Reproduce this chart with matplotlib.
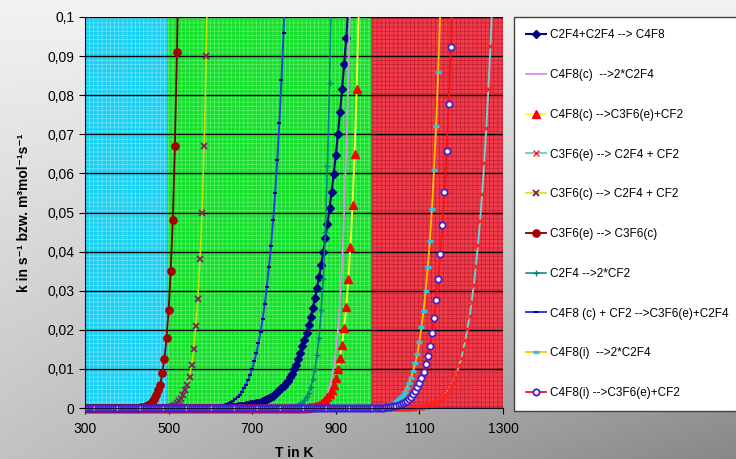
import numpy as np
import matplotlib
matplotlib.use("Agg")
from matplotlib import pyplot as plt
from matplotlib.ticker import FixedLocator, MultipleLocator, FuncFormatter
from matplotlib.transforms import Bbox, TransformedBbox

plt.rcParams['font.family'] = ['Liberation Sans', 'DejaVu Sans']
plt.rcParams['hatch.linewidth'] = 0.5

T_MIN, T_MAX, T_STEP = 300, 1300, 5
X_TICKS = [300, 500, 700, 900, 1100, 1300]

# temperature ranges of the three shaded zones
ZONES = [(300, 495), (495, 985), (985, 1300)]

LABELS = [
    "C2F4+C2F4 --> C4F8",
    "C4F8(c)  -->2*C2F4",
    "C4F8(c) -->C3F6(e)+CF2",
    "C3F6(e) --> C2F4 + CF2",
    "C3F6(c) --> C2F4 + CF2",
    "C3F6(e) --> C3F6(c)",
    "C2F4 -->2*CF2",
    "C4F8 (c) + CF2 -->C3F6(e)+C2F4",
    "C4F8(i)  -->2*C2F4",
    "C4F8(i) -->C3F6(e)+CF2",
]

# first temperature (K) where k leaves zero; below it every value reads 0
T_START = [625, 830, 830, 1085, 495, 430, 785, 600, 990, 1010]

# k values every 5 K from T_START on (last value is just above the frame)
K_C2F4_DIMER = [0.0001, 0.00012, 0.00015, 0.00018, 0.0002, 0.00025, 0.0003, 0.00035, 0.0004, 0.00045,
                0.0005, 0.0006, 0.0007, 0.0008, 0.0009, 0.0010, 0.0011, 0.0012, 0.0014, 0.0016,
                0.0018, 0.0020, 0.0022, 0.0025, 0.0028, 0.0031, 0.0035, 0.0040, 0.0045, 0.0050,
                0.0056, 0.0063, 0.0070, 0.0079, 0.0088, 0.0099, 0.0111, 0.0125, 0.0140, 0.0158,
                0.0175, 0.0193, 0.0212, 0.0233, 0.0256, 0.0281, 0.0307, 0.0336, 0.0366, 0.0399,
                0.0434, 0.0471, 0.0511, 0.0553, 0.0598, 0.0647, 0.0700, 0.0756, 0.0815, 0.0880,
                0.0947, 0.102]
K_C4F8C_2C2F4 = [0.0001, 0.00016, 0.00024, 0.00035, 0.0005, 0.0007, 0.001, 0.0014, 0.002, 0.0028,
                 0.0039, 0.0055, 0.0076, 0.0105, 0.0145, 0.020, 0.0275, 0.037, 0.050, 0.066,
                 0.085, 0.108]
K_C4F8C_C3F6 = [0.0001, 0.00015, 0.0002, 0.0003, 0.00045, 0.0006, 0.0008, 0.0011, 0.0015, 0.002,
                0.0027, 0.0035, 0.0046, 0.006, 0.0078, 0.0100, 0.0128, 0.0162, 0.0205, 0.0259,
                0.0329, 0.0413, 0.052, 0.065, 0.0815, 0.102]
K_C3F6E_SPLIT = [0.0001, 0.00014, 0.00018, 0.00024, 0.0003, 0.0004, 0.0005, 0.00065, 0.0008, 0.001,
                 0.0012, 0.0015, 0.0018, 0.0022, 0.0027, 0.0033, 0.0039, 0.0047, 0.0056, 0.0067,
                 0.0079, 0.0093, 0.0109, 0.0128, 0.015, 0.0175, 0.0203, 0.0235, 0.0272, 0.0314,
                 0.0362, 0.0416, 0.0477, 0.0547, 0.0626, 0.0715, 0.0816, 0.0926, 0.105]
K_C3F6C_SPLIT = [0.0001, 0.0002, 0.0003, 0.0005, 0.0008, 0.0012, 0.0017, 0.0024, 0.0033, 0.0045,
                 0.006, 0.008, 0.011, 0.015, 0.021, 0.028, 0.038, 0.050, 0.067, 0.090, 0.12]
K_C3F6_ISOM = [0.0001, 0.0002, 0.0003, 0.0005, 0.0007, 0.001, 0.0015, 0.0022, 0.0032, 0.0045,
               0.006, 0.009, 0.0125, 0.018, 0.025, 0.035, 0.048, 0.067, 0.091, 0.125]
K_C2F4_SPLIT = [0.0001, 0.00016, 0.00024, 0.00035, 0.0005, 0.0007, 0.001, 0.0014, 0.002, 0.0028,
                0.0039, 0.0054, 0.0074, 0.010, 0.0135, 0.018, 0.025, 0.033, 0.045, 0.062,
                0.083, 0.11]
K_C4F8C_CF2 = [0.0001, 0.00015, 0.0002, 0.0003, 0.0004, 0.0005, 0.0006, 0.0008, 0.001, 0.0012,
               0.0015, 0.0019, 0.0023, 0.0028, 0.0034, 0.0041, 0.005, 0.006, 0.0071, 0.0085,
               0.0101, 0.012, 0.0141, 0.0166, 0.0195, 0.0228, 0.0265, 0.031, 0.036, 0.0415,
               0.048, 0.055, 0.0635, 0.073, 0.084, 0.096, 0.11]
K_C4F8I_2C2F4 = [0.0001, 0.00015, 0.0002, 0.00025, 0.00033, 0.00043, 0.00055, 0.0007, 0.0009, 0.0011,
                 0.0014, 0.0017, 0.0022, 0.0027, 0.0034, 0.0042, 0.0052, 0.0064, 0.0078, 0.0095,
                 0.0114, 0.0138, 0.017, 0.0206, 0.0249, 0.030, 0.0361, 0.0428, 0.051, 0.0608,
                 0.0722, 0.086, 0.102]
K_C4F8I_C3F6 = [0.0001, 0.00012, 0.00016, 0.00022, 0.0003, 0.0004, 0.0005, 0.0006, 0.0008, 0.001,
                0.0012, 0.0015, 0.0019, 0.0024, 0.0029, 0.0036, 0.0044, 0.0053, 0.0064, 0.0077,
                0.0093, 0.0112, 0.0134, 0.0159, 0.0193, 0.0229, 0.0276, 0.0329, 0.0394, 0.0468,
                0.0553, 0.0657, 0.0778, 0.0922, 0.109]

K_RISING = [K_C2F4_DIMER, K_C4F8C_2C2F4, K_C4F8C_C3F6, K_C3F6E_SPLIT, K_C3F6C_SPLIT,
            K_C3F6_ISOM, K_C2F4_SPLIT, K_C4F8C_CF2, K_C4F8I_2C2F4, K_C4F8I_C3F6]

STYLES = [
    dict(color='#000080', lw=1.5, marker='D', ms=4.2, mfc='#000080', mec='#000080'),
    dict(color='#d890e0', lw=1.3, marker=None),
    dict(color='#ffff30', lw=1.3, marker='^', ms=5.5, mfc='#ff0000', mec='#ff0000'),
    dict(color='#70d0d0', lw=1.4, marker='x', ms=4.5, mec='#ff2020', mew=1.0),
    dict(color='#c8e000', lw=1.1, marker='x', ms=4.5, mec='#802060', mew=1.3),
    dict(color='#700000', lw=1.3, marker='o', ms=5.2, mfc='#a00000', mec='#a00000'),
    dict(color='#008080', lw=1.1, marker='+', ms=5, mec='#008080', mew=1.0),
    dict(color='#2040e0', lw=1.4, marker='_', ms=3.5, mec='#000090', mew=1.5),
    dict(color='#ffc000', lw=1.3, marker='_', ms=4.5, mec='#30c8d8', mew=2.5),
    dict(color='#ff1010', lw=1.3, marker='o', ms=4.5, mfc='white', mec='#4020d0', mew=1.3),
]

ZONE_FACE = ['#18d0f2', '#14e02c', '#f23c4c']
ZONE_HATCH = ['#70e4fa', '#5cf06a', '#c02030']

fig = plt.figure(figsize=(7.36, 4.59), dpi=100)

# grey gradient behind everything
bg = fig.add_axes([0, 0, 1, 1], zorder=-5)
yy, xx = np.mgrid[0:1:200j, 0:1:200j]
shade = 0.95 - 0.42 * yy * (0.45 + 0.55 * xx)
bg.imshow(shade, cmap='gray', vmin=0, vmax=1, aspect='auto', extent=[0, 1, 0, 1])
bg.axis('off')

ax = fig.add_axes([85 / 736, 51 / 459, 418 / 736, 391 / 459])
ax.set_facecolor('none')

for (t0, t1), fc, hc in zip(ZONES, ZONE_FACE, ZONE_HATCH):
    ax.axvspan(t0, t1, facecolor=fc, edgecolor=hc, hatch='++++', lw=0, zorder=0.5)

clip = TransformedBbox(Bbox([[0, -0.03], [1, 1]]), ax.transAxes)

handles = []
for label, t_start, k_rise, st in zip(LABELS, T_START, K_RISING, STYLES):
    n_zero = (t_start - T_MIN) // T_STEP
    k = [0.0] * n_zero + k_rise
    temps = T_MIN + T_STEP * np.arange(len(k))
    line, = ax.plot(temps, k, label=label, **st)
    line.set_clip_box(clip)
    handles.append(line)

ax.set_xlim(T_MIN, T_MAX)
ax.set_ylim(0, 0.1)
ax.xaxis.set_major_locator(FixedLocator(X_TICKS))
ax.yaxis.set_major_locator(MultipleLocator(0.01))
ax.yaxis.set_major_formatter(FuncFormatter(
    lambda v, p: f"{v:.2f}".rstrip('0').rstrip('.').replace('.', ',')))
ax.yaxis.grid(True, color='black', lw=1.0)
ax.tick_params(direction='out', length=4, labelsize=10, colors='black')
ax.tick_params(axis='x', pad=6)

for side in ['top', 'right']:
    ax.spines[side].set_visible(False)
ax.spines['left'].set_color('#101030')
ax.spines['bottom'].set_color('#101030')

ax.set_xlabel("T in K", fontweight='bold', fontsize=10, labelpad=7)
ax.set_ylabel("k in s⁻¹ bzw. m³mol⁻¹s⁻¹", fontweight='bold', fontsize=10, labelpad=12)

leg = ax.legend(handles=handles, loc='upper left', bbox_to_anchor=(514 / 736, 1 - 17 / 459),
                bbox_transform=fig.transFigure, borderaxespad=0, fancybox=False,
                framealpha=1, edgecolor='#404040', fontsize=8.5, labelspacing=2.35,
                handlelength=1.7, handletextpad=0.3, borderpad=1.05, numpoints=1)
leg.get_frame().set_linewidth(1.0)

plt.savefig("out.png", dpi=100)
